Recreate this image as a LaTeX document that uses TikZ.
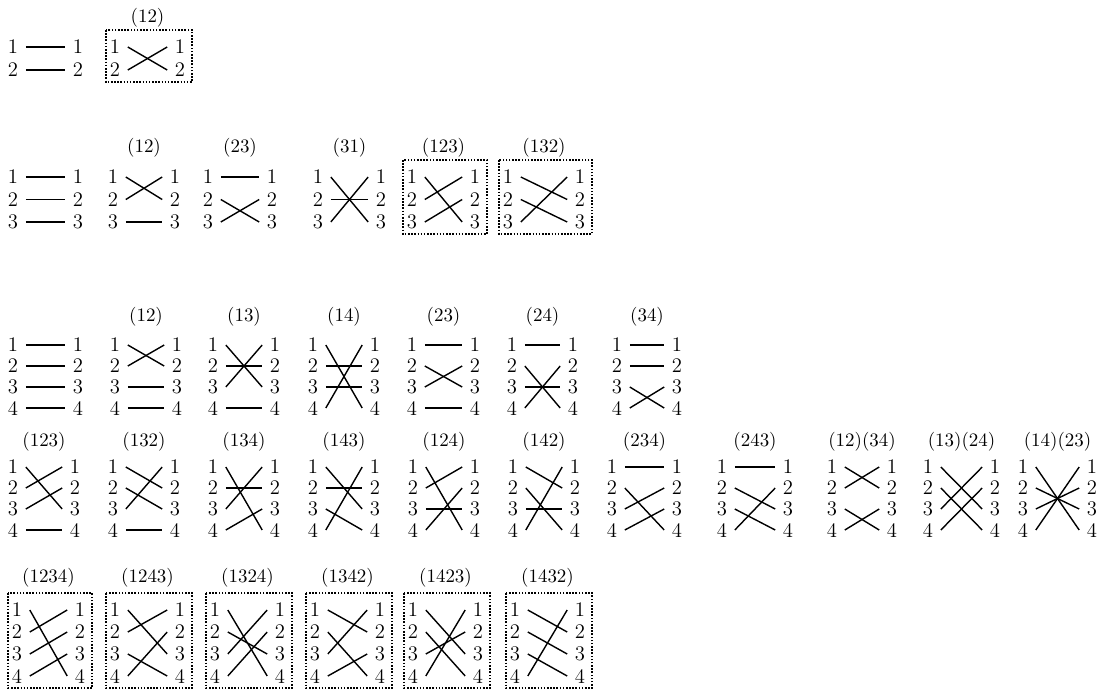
\documentclass[tikz,border=0pt]{standalone}
\usetikzlibrary{calc}
\tikzset{
  num/.style={font=\fontsize{11.8}{12}\selectfont, inner xsep=4.2pt, inner ysep=0.5pt},
  lab/.style={font=\fontsize{10.8}{12}\selectfont},
  strand/.style={line width=0.8pt},
  dbox/.style={line width=0.7pt, dash pattern=on 0.9pt off 0.9pt},
}
\newcommand{\permsep}{21}
\newcommand{\permlab}{28}
% #1 name, #2 x of left numbers, #3 y of first row, #4 width, #5 label, #6 targets
\newcommand{\permdiag}[6]{%
  \foreach \t [count=\i] in {#6} {
    \node[num] (#1L\i) at ({#2},{#3+(\i-1)*\permsep}) {\i};
    \node[num] (#1R\i) at ({#2+#4},{#3+(\i-1)*\permsep}) {\i};
  }
  \foreach \t [count=\i] in {#6} {
    \draw[strand] (#1L\i.east) -- (#1R\t.west);
  }
  \node[lab] (#1T) at ({#2+#4/2},{#3-\permlab}) {#5};
}
% dotted frame: #1 name, #2 number of rows
\newcommand{\frameperm}[2]{%
  \draw[dbox] ($(#1L1.center)+(-9,-17)$) rectangle ($(#1R#2.center)+(12,12)$);
}
\begin{document}
\begin{tikzpicture}[x=0.02cm, y=-0.02cm]
  \useasboundingbox (0,0) rectangle (1098,690);

  % --- S2 ---
  \renewcommand{\permsep}{23}
  \renewcommand{\permlab}{29}
  \permdiag{pid}{13}{47}{65}{}{1,2}
  \permdiag{pab}{115}{47}{65}{(12)}{2,1}
  \frameperm{pab}{2}

  % --- S3 ---
  \renewcommand{\permsep}{22.5}
  \permdiag{qid}{13}{177}{65}{}{1,2,3}
  \permdiag{qab}{113}{177}{62}{(12)}{2,1,3}
  \permdiag{qbc}{208}{177}{64}{(23)}{1,3,2}
  \permdiag{qca}{318}{177}{63}{(31)}{3,2,1}
  \permdiag{qabc}{412}{177}{63}{(123)}{3,1,2}
  \permdiag{qacb}{508}{177}{72}{(132)}{2,3,1}
  \frameperm{qabc}{3}
  \frameperm{qacb}{3}

  % --- S4, transpositions ---
  \renewcommand{\permsep}{21}
  \renewcommand{\permlab}{28}
  \permdiag{rid}{13}{345}{65}{}{1,2,3,4}
  \permdiag{rab}{115}{345}{62}{(12)}{2,1,3,4}
  \permdiag{rac}{213}{345}{62}{(13)}{3,2,1,4}
  \permdiag{rad}{313}{345}{62}{(14)}{4,2,3,1}
  \permdiag{rbc}{412}{345}{63}{(23)}{1,3,2,4}
  \permdiag{rbd}{512}{345}{61}{(24)}{1,4,3,2}
  \permdiag{rcd}{617}{345}{60}{(34)}{1,2,4,3}

  % --- S4, 3-cycles and double transpositions ---
  \renewcommand{\permlab}{25}
  \permdiag{sabc}{13}{467}{62}{(123)}{3,1,2,4}
  \permdiag{sacb}{113}{467}{62}{(132)}{2,3,1,4}
  \permdiag{sacd}{213}{467}{62}{(134)}{4,2,1,3}
  \permdiag{sadc}{313}{467}{62}{(143)}{3,2,4,1}
  \permdiag{sabd}{413}{467}{62}{(124)}{4,1,3,2}
  \permdiag{sadb}{513}{467}{62}{(142)}{2,4,3,1}
  \permdiag{sbcd}{612}{467}{65}{(234)}{1,4,2,3}
  \permdiag{sbdc}{722}{467}{66}{(243)}{1,3,4,2}
  \permdiag{sabcd}{832}{467}{60}{(12)(34)}{2,1,4,3}
  \permdiag{sacbd}{928}{467}{67}{(13)(24)}{3,4,1,2}
  \permdiag{sadbc}{1023}{467}{69}{(14)(23)}{4,3,2,1}

  % --- S4, 4-cycles ---
  \renewcommand{\permsep}{22}
  \renewcommand{\permlab}{32}
  \permdiag{tabcd}{17}{610}{63}{(1234)}{4,1,2,3}
  \permdiag{tabdc}{115}{610}{65}{(1243)}{3,1,4,2}
  \permdiag{tacbd}{215}{610}{65}{(1324)}{4,3,1,2}
  \permdiag{tacdb}{315}{610}{65}{(1342)}{2,4,1,3}
  \permdiag{tadbc}{413}{610}{65}{(1423)}{3,4,2,1}
  \permdiag{tadcb}{515}{610}{65}{(1432)}{2,3,4,1}
  \frameperm{tabcd}{4}
  \frameperm{tabdc}{4}
  \frameperm{tacbd}{4}
  \frameperm{tacdb}{4}
  \frameperm{tadbc}{4}
  \frameperm{tadcb}{4}
\end{tikzpicture}
\end{document}
